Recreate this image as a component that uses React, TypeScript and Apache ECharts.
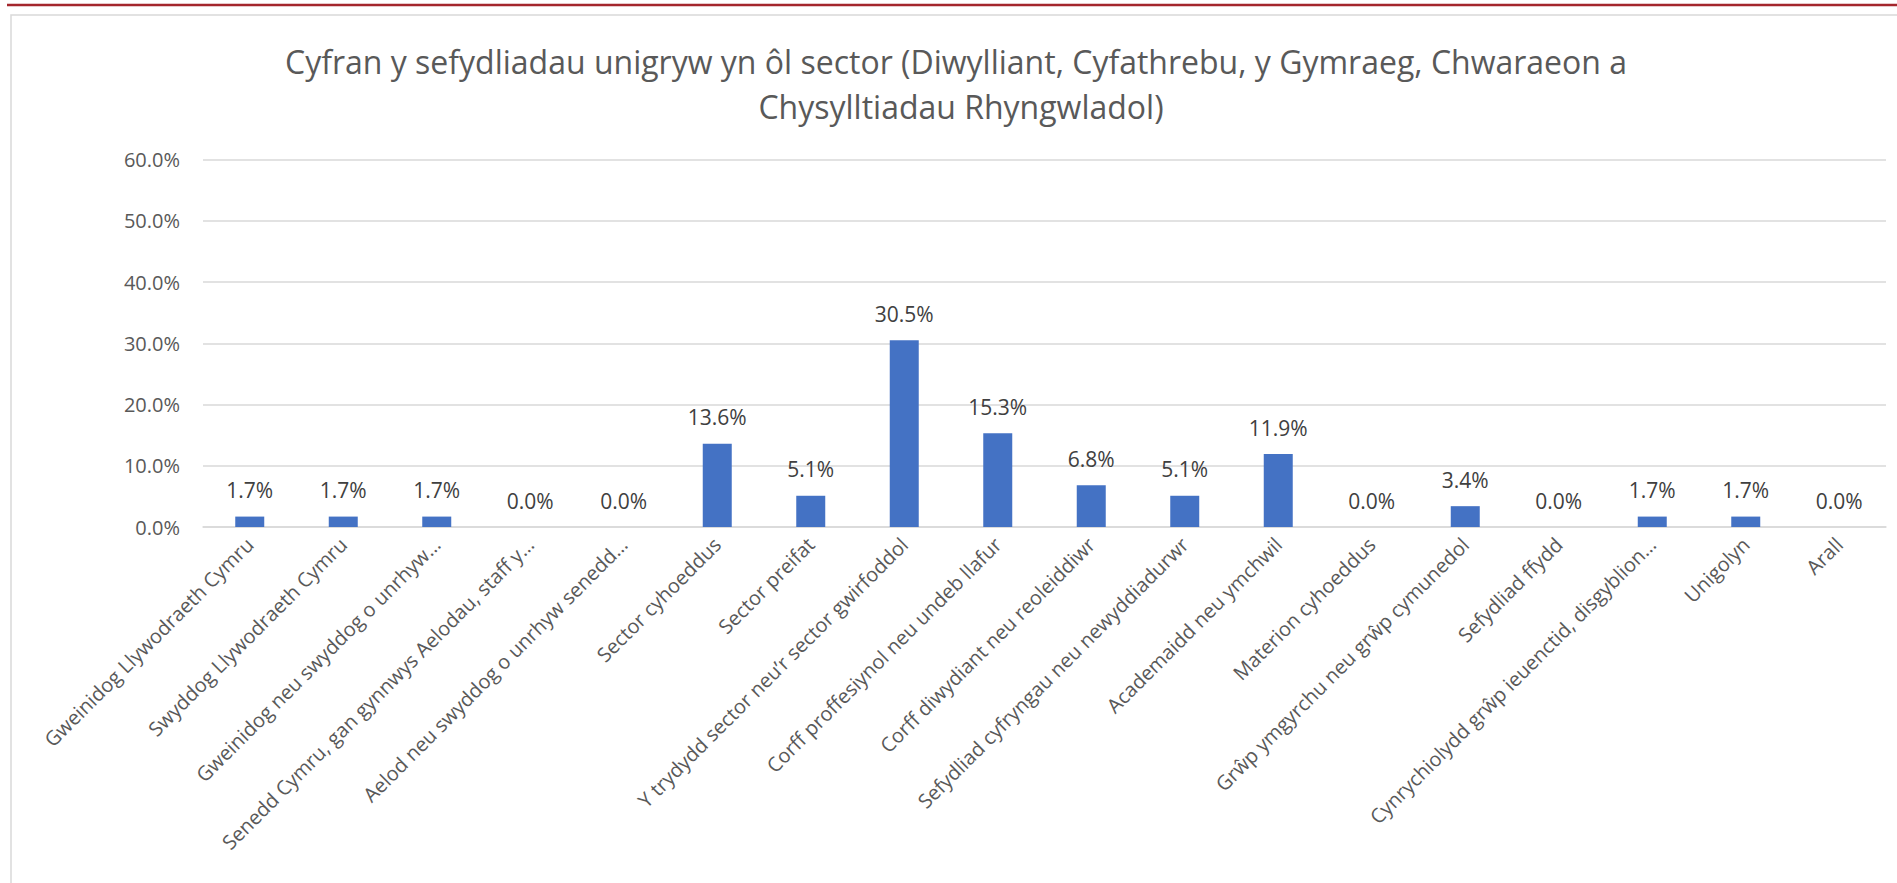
import React, { useEffect, useRef } from "react";
import * as echarts from "echarts";

const titleLines = [
  "Cyfran y sefydliadau unigryw yn ôl sector (Diwylliant, Cyfathrebu, y Gymraeg, Chwaraeon a",
  "Chysylltiadau Rhyngwladol)",
];

const categories = [
  "Gweinidog Llywodraeth Cymru",
  "Swyddog Llywodraeth Cymru",
  "Gweinidog neu swyddog o unrhyw…",
  "Senedd Cymru, gan gynnwys Aelodau, staff y…",
  "Aelod neu swyddog o unrhyw senedd…",
  "Sector cyhoeddus",
  "Sector preifat",
  "Y trydydd sector neu’r sector gwirfoddol",
  "Corff proffesiynol neu undeb llafur",
  "Corff diwydiant neu reoleiddiwr",
  "Sefydliad cyfryngau neu newyddiadurwr",
  "Academaidd neu ymchwil",
  "Materion cyhoeddus",
  "Grŵp ymgyrchu neu grŵp cymunedol",
  "Sefydliad ffydd",
  "Cynrychiolydd grŵp ieuenctid, disgyblion…",
  "Unigolyn",
  "Arall",
];

const values = [1.7, 1.7, 1.7, 0.0, 0.0, 13.6, 5.1, 30.5, 15.3, 6.8, 5.1, 11.9, 0.0, 3.4, 0.0, 1.7, 1.7, 0.0];

const yMin = 0;
const yMax = 60;
const yInterval = 10;

const FONT = "'Open Sans', 'Noto Sans', sans-serif";

export default function App() {
  const ref = useRef<HTMLDivElement>(null);
  useEffect(() => {
    if (!ref.current) return;
    const chart = echarts.init(ref.current, null, { renderer: "svg" });
    chart.setOption({
      animation: false,
      backgroundColor: "#ffffff",
      textStyle: { fontFamily: FONT },
      graphic: [
        {
          type: "line",
          shape: { x1: 7, y1: 5, x2: 1897, y2: 5 },
          style: { stroke: "#A4262C", lineWidth: 2.5 },
          silent: true,
        },
        {
          type: "rect",
          shape: { x: 11, y: 15, width: 1900, height: 900 },
          style: { fill: "none", stroke: "#D9D9D9", lineWidth: 1.5 },
          silent: true,
        },
        {
          type: "text",
          x: 956,
          y: 61,
          style: {
            text: titleLines[0],
            fontSize: 32,
            fontFamily: FONT,
            fill: "#595959",
            align: "center",
            verticalAlign: "middle",
          },
        },
        {
          type: "text",
          x: 961,
          y: 106,
          style: {
            text: titleLines[1],
            fontSize: 32,
            fontFamily: FONT,
            fill: "#595959",
            align: "center",
            verticalAlign: "middle",
          },
        },
      ],
      grid: { left: 203, right: 11, top: 159.5, bottom: 356, containLabel: false },
      xAxis: {
        type: "category",
        data: categories,
        axisLine: { show: true, lineStyle: { color: "#D9D9D9", width: 1.5 } },
        axisTick: { show: false },
        axisLabel: {
          rotate: 45,
          interval: 0,
          margin: 14,
          fontSize: 20,
          color: "#595959",
          fontFamily: FONT,
        },
      },
      yAxis: {
        type: "value",
        min: yMin,
        max: yMax,
        interval: yInterval,
        axisLine: { show: false },
        axisTick: { show: false },
        splitLine: { lineStyle: { color: "#D9D9D9", width: 1.5 } },
        axisLabel: {
          margin: 23,
          fontSize: 20,
          color: "#595959",
          fontFamily: FONT,
          formatter: (v: number) => v.toFixed(1) + "%",
        },
      },
      series: [
        {
          type: "bar",
          data: values,
          barWidth: 29,
          itemStyle: { color: "#4472C4" },
          label: {
            show: true,
            position: "top",
            distance: 16,
            fontSize: 21,
            color: "#404040",
            fontFamily: FONT,
            formatter: (p: any) => Number(p.value).toFixed(1) + "%",
          },
        },
      ],
    });
    return () => chart.dispose();
  }, []);
  return (
    <div
      ref={ref}
      style={{ position: "fixed", left: 0, top: 0, width: 1897, height: 883 }}
    />
  );
}
